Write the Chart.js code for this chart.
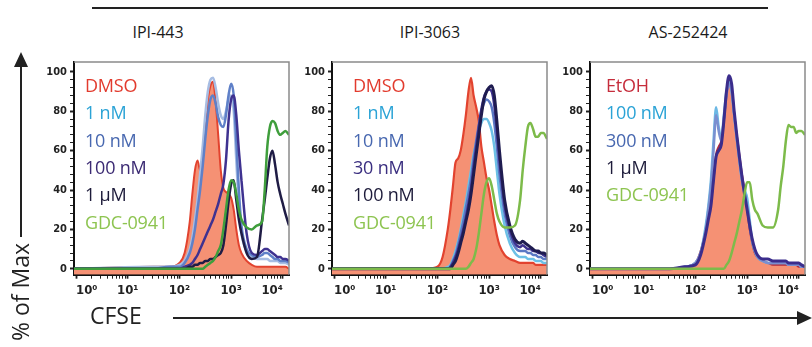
<!DOCTYPE html>
<html lang="en">
<head>
<meta charset="UTF-8">
<title>CFSE proliferation histograms</title>
<style>
    body {
        margin: 0;
        width: 812px;
        height: 347px;
        position: relative;
        overflow: hidden;
        background: #ffffff;
        font-family: "Open Sans", Arial, sans-serif;
        color: #222;
    }
    canvas { position: absolute; top: 50px; }
    .title {
        position: absolute;
        top: 24px;
        width: 200px;
        text-align: center;
        font-size: 16px;
        line-height: 1;
        white-space: nowrap;
        color: #1a1a1a;
    }
    .leg {
        position: absolute;
        font-size: 18px;
        line-height: 1;
        white-space: nowrap;
        letter-spacing: -0.2px;
    }
    #ylab {
        position: absolute;
        left: 9px;
        top: 383px;
        width: 140px;
        text-align: right;
        font-size: 23px;
        line-height: 1;
        transform-origin: 0 0;
        transform: rotate(-90deg);
        white-space: nowrap;
    }
    #xlab {
        position: absolute;
        left: 90px;
        top: 304px;
        font-size: 23px;
        line-height: 1;
    }
    svg { position: absolute; left: 0; top: 0; }
</style>
</head>
<body>
<svg width="812" height="347">
    <line x1="92" y1="8" x2="768" y2="8" stroke="#222" stroke-width="2"/>
    <line x1="21" y1="237" x2="21" y2="62" stroke="#222" stroke-width="2"/>
    <polygon points="14,67 21,52 28,67" fill="#222"/>
    <line x1="173" y1="318" x2="802" y2="318" stroke="#222" stroke-width="2"/>
    <polygon points="797,311 812,318 797,325" fill="#222"/>
</svg>

<div class="title" style="left:58px">IPI-443</div>
<div class="title" style="left:330px">IPI-3063</div>
<div class="title" style="left:588px">AS-252424</div>

<canvas id="panel1" width="261" height="262" style="left:34px"></canvas>
<canvas id="panel2" width="261" height="262" style="left:292px"></canvas>
<canvas id="panel3" width="261" height="262" style="left:550px"></canvas>

<div id="legends"></div>
<div id="ylab">% of Max</div>
<div id="xlab">CFSE</div>

<script src="https://cdn.jsdelivr.net/npm/chart.js"></script>
<script>
    // CFSE channel, in decades (log10), where each histogram was read
    const cfseLog = [-0.04, 1.5, 1.8, 2.0, 2.1, 2.2, 2.25, 2.3, 2.35, 2.4,
                     2.45, 2.5, 2.55, 2.6, 2.65, 2.7, 2.75, 2.8, 2.85, 2.9,
                     2.95, 3.0, 3.05, 3.1, 3.15, 3.2, 3.3, 3.4, 3.5, 3.6,
                     3.65, 3.7, 3.75, 3.8, 3.85, 3.9, 3.95, 4.0, 4.05, 4.12];

    const xTickLabels = ['10⁰', '10¹', '10²', '10³', '10⁴'];
    const yTickLabels = [0, 20, 40, 60, 80, 100];

    // IPI-443
    const p1Names = ['DMSO', '1 nM', '10 nM', '100 nM', '1 µM', 'GDC-0941'];
    const p1Dmso  = [0,1,1,3,8,24,38,50,55,50, 56,72,86,93,95,85,68,50,41,39, 38,36,30,20,12,8,4,2,1,1, 1,1,1,1,1,1,1,1,1,0];
    const p1Nm1   = [0,1,1,2,4,10,16,25,35,48, 62,78,90,96,97,92,84,78,76,80, 86,88,80,55,32,18,9,6,5,5, 5,5,4,4,4,4,3,3,3,2];
    const p1Nm10  = [0,0,1,1,3,8,13,20,30,40, 52,66,78,86,88,84,77,73,72,78, 88,94,88,65,40,22,10,7,6,7, 8,8,7,6,5,5,4,4,4,3];
    const p1Nm100 = [0,0,0,0,1,2,3,5,7,10, 13,16,19,22,25,29,33,38,43,55, 75,86,88,78,60,45,18,8,7,9, 10,10,9,8,7,6,6,5,5,4];
    const p1Um1   = [0,0,0,0,0,1,1,2,2,3, 3,4,4,5,5,6,7,8,12,22, 34,43,45,35,25,18,8,5,6,25, 35,46,56,60,53,44,38,33,28,22];
    const p1Gdc   = [0,0,0,0,0,0,0,0,0,0, 0,1,2,3,4,6,9,12,20,30, 40,45,44,38,30,25,21,20,22,24, 40,62,72,75,74,70,68,69,70,68];

    // IPI-3063
    const p2Names = ['DMSO', '1 nM', '10 nM', '30 nM', '100 nM', 'GDC-0941'];
    const p2Dmso  = [0,0,0,1,6,20,30,42,54,56, 60,68,78,90,97,88,82,75,62,54, 46,40,32,24,17,12,7,5,4,3, 3,3,3,3,3,2,2,2,2,2];
    const p2Nm1   = [0,0,0,0,0,1,2,5,9,14, 20,27,34,42,50,58,64,70,74,76, 76,74,70,62,50,38,22,13,8,6, 6,6,5,5,5,4,4,4,3,3];
    const p2Nm10  = [0,0,0,0,0,0,1,4,7,12, 18,24,31,38,46,56,65,73,80,84, 86,85,82,74,62,48,28,17,11,9, 9,9,8,8,7,7,6,6,5,5];
    const p2Nm30  = [0,0,0,0,0,0,1,3,6,10, 15,20,26,33,41,52,62,72,81,87, 90,91,90,83,70,55,32,20,13,11, 12,11,10,10,9,9,8,8,7,6];
    const p2Nm100 = [0,0,0,0,0,0,0,2,4,8, 13,18,24,30,38,48,58,68,78,86, 90,92,93,88,75,60,35,22,15,13, 14,13,12,11,10,9,9,8,8,7];
    const p2Gdc   = [0,0,0,0,0,0,0,0,0,0, 0,0,0,1,3,5,10,18,28,38, 44,46,42,35,28,24,21,21,22,35, 50,62,72,74,71,67,67,69,69,66];

    // AS-252424
    const p3Names = ['EtOH', '100 nM', '300 nM', '1 µM', 'GDC-0941'];
    const p3Etoh  = [0,0,1,3,9,20,27,34,45,58, 62,65,75,88,96,92,78,68,58,48, 40,30,20,13,8,6,4,3,2,2, 2,2,2,2,2,2,2,1,1,1];
    const p3Nm100 = [0,0,1,3,8,22,32,45,65,82, 72,66,78,90,95,90,78,66,55,45, 40,36,25,14,9,6,4,3,3,3, 3,3,3,2,2,2,2,2,1,1];
    const p3Nm300 = [0,0,1,3,8,20,30,42,60,78, 70,65,76,88,94,90,78,66,55,45, 38,32,22,14,9,6,4,3,3,3, 3,3,3,2,2,2,2,2,1,1];
    const p3Um1   = [0,0,1,2,7,18,25,32,45,57, 60,63,75,90,98,94,80,68,57,47, 38,30,22,15,10,7,5,5,4,4, 4,4,4,3,3,3,3,3,2,1];
    const p3Gdc   = [0,0,0,0,0,0,0,0,0,0, 0,0,0,2,4,8,13,18,24,30, 38,44,44,35,30,28,22,21,21,30, 42,52,65,73,72,72,69,70,70,68];

    const salmon = '#f59174';
    const p1Styles = [
        { line: '#e2432f', w: 2,   fill: salmon, order: 9, text: '#e23b2e' },
        { line: '#a7bde3', w: 2.5, order: 6, text: '#2ba3d6' },
        { line: '#5f80c8', w: 2.5, order: 5, text: '#4868b0' },
        { line: '#3f3290', w: 2.5, order: 3, text: '#3b2a73' },
        { line: '#1f1c45', w: 2.5, order: 2, text: '#1d1b3a' },
        { line: '#3f9e3c', w: 2.5, order: 1, text: '#8dc450' }
    ];
    const p2Styles = [
        { line: '#e2432f', w: 2.2, fill: salmon, order: 9, text: '#e23b2e' },
        { line: '#6cc0e6', w: 2.5, order: 6, text: '#2ba3d6' },
        { line: '#5a78c4', w: 2.5, order: 5, text: '#4868b0' },
        { line: '#3f3290', w: 2.5, order: 4, text: '#3b2f80' },
        { line: '#1f1c50', w: 3,   order: 3, text: '#1d1b3a' },
        { line: '#7dbb4a', w: 2.5, order: 1, text: '#8dc450' }
    ];
    const p3Styles = [
        { line: '#b0283c', w: 2,   fill: salmon, order: 9, text: '#c62d3c' },
        { line: '#6cb8e4', w: 2.5, order: 6, text: '#2ba3d6' },
        { line: '#7a8fd0', w: 2.5, order: 5, text: '#4868b0' },
        { line: '#3b2d8c', w: 3,   order: 3, text: '#1d1b3a' },
        { line: '#7dbb4a', w: 2.5, order: 1, text: '#8dc450' }
    ];

    // minor ticks: every 4 % on y, log spacing on x
    const yTicks = [];
    for (let v = 0; v <= 100; v += 4) yTicks.push(v);
    const xTicks = [];
    for (let d = 0; d < 4; d++) {
        for (let m = 1; m < 10; m++) xTicks.push(d + Math.log10(m));
    }
    xTicks.push(4);

    const isInt = v => Math.abs(v - Math.round(v)) < 1e-6;

    const boxPlugin = {
        id: 'box',
        afterDraw(chart) {
            const a = chart.chartArea, ctx = chart.ctx;
            ctx.save();
            ctx.strokeStyle = '#8a8a8a';
            ctx.lineWidth = 1.5;
            ctx.beginPath();
            ctx.moveTo(a.left, a.top);
            ctx.lineTo(a.right, a.top);
            ctx.lineTo(a.right, a.bottom);
            ctx.stroke();
            ctx.restore();
        }
    };

    function buildPanel(id, names, values, styles) {
        const datasets = names.map((name, i) => ({
            label: name,
            data: cfseLog.map((x, j) => ({ x: x, y: values[i][j] })),
            borderColor: styles[i].line,
            borderWidth: styles[i].w,
            backgroundColor: styles[i].fill || 'transparent',
            fill: styles[i].fill ? 'start' : false,
            pointRadius: 0,
            cubicInterpolationMode: 'monotone',
            order: styles[i].order
        }));

        return new Chart(document.getElementById(id), {
            type: 'line',
            data: { datasets: datasets },
            plugins: [boxPlugin],
            options: {
                responsive: false,
                animation: false,
                devicePixelRatio: 1,
                layout: { padding: { top: 12, right: 6, bottom: 7.3, left: 0 } },
                plugins: { legend: { display: false }, tooltip: { enabled: false } },
                scales: {
                    x: {
                        type: 'linear',
                        min: -0.04,
                        max: 4.12,
                        afterBuildTicks: s => { s.ticks = xTicks.map(v => ({ value: v })); },
                        afterFit: s => { s.height = 30; },
                        border: { color: '#111', width: 2 },
                        grid: {
                            drawOnChartArea: false,
                            tickLength: 4,
                            tickColor: '#222',
                            tickWidth: c => (c.tick && isInt(c.tick.value)) ? 1.8 : 1
                        },
                        ticks: {
                            autoSkip: false,
                            maxRotation: 0,
                            minRotation: 0,
                            align: 'inner',
                            padding: 4,
                            color: '#222',
                            font: { family: "'DejaVu Sans Condensed', 'DejaVu Sans', sans-serif", size: 13, weight: 'bold' },
                            callback: v => isInt(v) ? xTickLabels[Math.round(v)] : ''
                        }
                    },
                    y: {
                        min: -3,
                        max: 105,
                        afterBuildTicks: s => { s.ticks = yTicks.map(v => ({ value: v })); },
                        afterFit: s => { s.width = 40; },
                        border: { color: '#111', width: 2 },
                        grid: {
                            drawOnChartArea: false,
                            tickLength: 4,
                            tickColor: '#222',
                            tickWidth: c => (c.tick && yTickLabels.includes(c.tick.value)) ? 2 : 1
                        },
                        ticks: {
                            autoSkip: false,
                            padding: 3,
                            color: '#222',
                            font: { family: "'Liberation Sans Narrow', 'DejaVu Sans Condensed', sans-serif", size: 11, weight: 'bold' },
                            callback: v => yTickLabels.includes(v) ? String(v) : ''
                        }
                    }
                }
            }
        });
    }

    buildPanel('panel1', p1Names, [p1Dmso, p1Nm1, p1Nm10, p1Nm100, p1Um1, p1Gdc], p1Styles);
    buildPanel('panel2', p2Names, [p2Dmso, p2Nm1, p2Nm10, p2Nm30, p2Nm100, p2Gdc], p2Styles);
    buildPanel('panel3', p3Names, [p3Etoh, p3Nm100, p3Nm300, p3Um1, p3Gdc], p3Styles);

    // in-plot legends, one text line per series
    const legendSets = [
        { left: 85, names: p1Names, styles: p1Styles },
        { left: 353, names: p2Names, styles: p2Styles },
        { left: 606, names: p3Names, styles: p3Styles }
    ];
    const legendBox = document.getElementById('legends');
    legendSets.forEach(set => {
        set.names.forEach((name, i) => {
            const d = document.createElement('div');
            d.className = 'leg';
            d.textContent = name;
            d.style.left = set.left + 'px';
            d.style.top = (76 + i * 27.3) + 'px';
            d.style.color = set.styles[i].text;
            legendBox.appendChild(d);
        });
    });
</script>
</body>
</html>
